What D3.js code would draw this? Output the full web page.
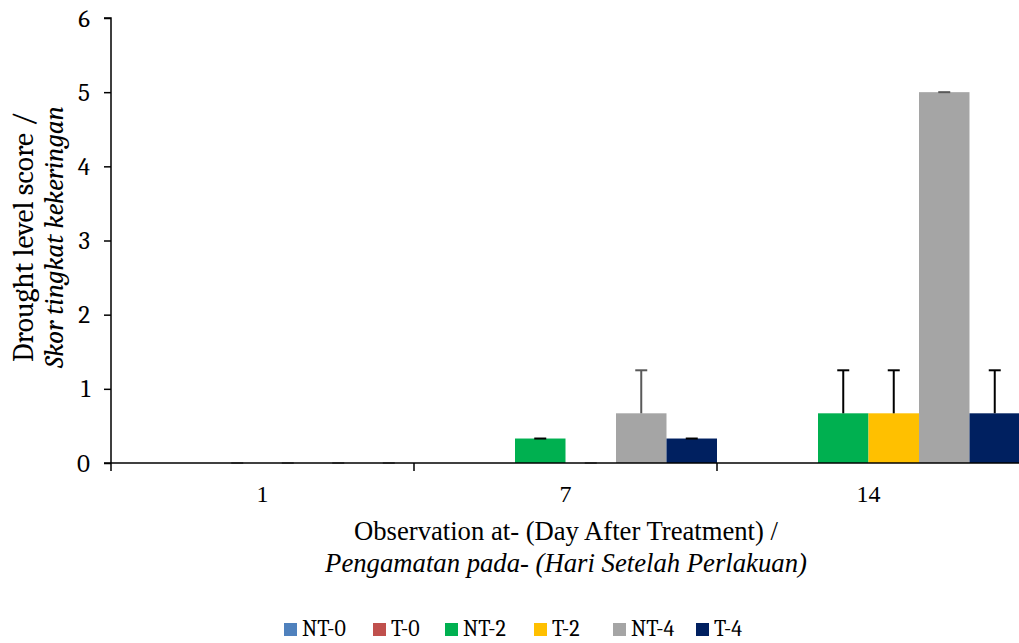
<!DOCTYPE html>
<html><head><meta charset="utf-8">
<script src="https://cdn.jsdelivr.net/npm/d3@7/dist/d3.min.js"></script>
<style>body{margin:0;background:#fff}svg{display:block}</style>
</head><body><svg id="c" width="1019" height="643"></svg>
<script>
const days = ["1", "7", "14"];
const series = ["NT-0", "T-0", "NT-2", "T-2", "NT-4", "T-4"];
const colors = ["#4F81BD", "#C0504D", "#00B050", "#FFC000", "#A5A5A5", "#002060"];
// values[series][day]
const values = [
  [0, 0, 0],
  [0, 0, 0],
  [0, 0.33, 0.67],
  [0, 0, 0.67],
  [0, 0.67, 5],
  [0, 0.33, 0.67]
];
// upper error per series/day; null = no error bar drawn
const errors = [
  [null, null, null],
  [null, null, null],
  [0, 0, 0.58],
  [0, 0, 0.58],
  [0, 0.58, 0],
  [0, 0, 0.58]
];
const errColors = ["#000", "#000", "#000", "#000", "#595959", "#000"];
const yTicks = [0, 1, 2, 3, 4, 5, 6];

const CAMB = "'Cambria','Caladea','Liberation Serif',serif";
const TNR = "'Liberation Serif','Times New Roman',serif";

const svg = d3.select("#c");
const m = {l: 111, r: 1020, t: 18, b: 463};
const x0 = d3.scaleBand().domain(days).range([m.l, m.r]).padding(0);
const x1 = d3.scaleBand().domain(series).range([0, x0.bandwidth()]).padding(0);
const y = d3.scaleLinear().domain([0, 6]).range([m.b, m.t]);

function fit(sel, target) {
  const w = sel.node().getComputedTextLength();
  const fs = parseFloat(sel.style("font-size"));
  sel.style("font-size", (fs * target / w).toFixed(2) + "px");
}

const g = svg.append("g");
series.forEach((s, si) => {
  days.forEach((d, di) => {
    const v = values[si][di];
    if (v > 0) {
      g.append("rect")
        .attr("x", x0(d) + x1(s))
        .attr("y", y(v))
        .attr("width", x1.bandwidth())
        .attr("height", y(0) - y(v))
        .attr("fill", colors[si]);
    }
  });
});
series.forEach((s, si) => {
  days.forEach((d, di) => {
    const e = errors[si][di];
    if (e === null) return;
    const v = values[si][di];
    const cx = x0(d) + x1(s) + x1.bandwidth() / 2;
    const col = (v === 0) ? "#8a8a8a" : errColors[si];
    if (e > 0) {
      g.append("line").attr("x1", cx).attr("x2", cx).attr("y1", y(v)).attr("y2", y(v + e))
        .attr("stroke", col).attr("stroke-width", 2);
    }
    g.append("line").attr("x1", cx - 6).attr("x2", cx + 6).attr("y1", y(v + e)).attr("y2", y(v + e))
      .attr("stroke", col).attr("stroke-width", 2);
  });
});

const ya = svg.append("g").attr("transform", `translate(${m.l},0)`)
  .call(d3.axisLeft(y).tickValues(yTicks).tickSize(7).tickPadding(14).tickFormat(d3.format("d")));
ya.select(".domain").attr("stroke", "#000").attr("stroke-width", 1.5).attr("d", `M-7,${m.t}H0V${m.b}`);
ya.selectAll(".tick line").attr("stroke", "#000").attr("stroke-width", 1.5);
ya.selectAll("text").style("font-family", CAMB).style("font-size", "25px").attr("fill", "#000");

const xa = svg.append("g").attr("transform", `translate(0,${m.b})`);
xa.append("line").attr("x1", m.l - 7).attr("x2", m.r).attr("y1", 0).attr("y2", 0).attr("stroke", "#000").attr("stroke-width", 1.5);
days.forEach(d => {
  xa.append("line").attr("x1", x0(d)).attr("x2", x0(d)).attr("y1", 0).attr("y2", 8).attr("stroke", "#000").attr("stroke-width", 1.5);
  xa.append("text").attr("x", x0(d) + x0.bandwidth() / 2).attr("y", 39).attr("text-anchor", "middle")
    .style("font-family", TNR).style("font-size", "24px").text(d);
});

const xt1 = svg.append("text").attr("text-anchor", "middle").attr("x", 566).attr("y", 540)
  .style("font-family", TNR).style("font-size", "26px").text("Observation at- (Day After Treatment) /");
fit(xt1, 424);
const xt2 = svg.append("text").attr("text-anchor", "middle").attr("x", 566).attr("y", 572)
  .style("font-family", TNR).style("font-size", "26px").style("font-style", "italic")
  .text("Pengamatan pada- (Hari Setelah Perlakuan)");
fit(xt2, 482);

const yt1 = svg.append("text").attr("transform", "translate(33,237) rotate(-90)").attr("text-anchor", "middle")
  .style("font-family", CAMB).style("font-size", "24px").text("Drought level score /");
fit(yt1, 250);
const yt2 = svg.append("text").attr("transform", "translate(63,237) rotate(-90)").attr("text-anchor", "middle")
  .style("font-family", CAMB).style("font-size", "24px").style("font-style", "italic").text("Skor tingkat kekeringan");
fit(yt2, 262);

const legX = [284, 373, 445, 534, 613, 696];
const lg = svg.append("g");
series.forEach((s, i) => {
  lg.append("rect").attr("x", legX[i]).attr("y", 623).attr("width", 13).attr("height", 13).attr("fill", colors[i]);
  lg.append("text").attr("x", legX[i] + 18).attr("y", 636)
    .style("font-family", CAMB).style("font-size", "22px").attr("fill", "#000").text(s);
});
</script></body></html>
